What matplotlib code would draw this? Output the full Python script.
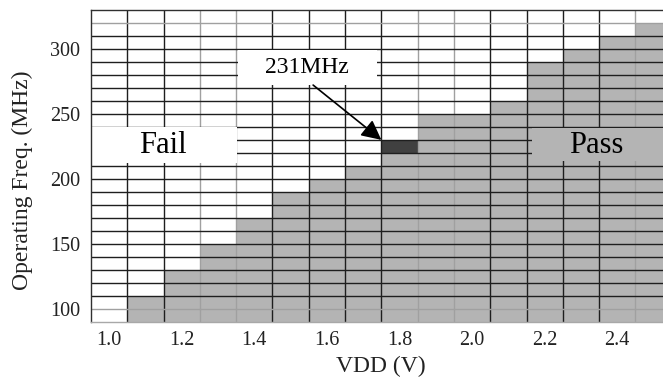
import matplotlib
matplotlib.use("Agg")
import matplotlib.pyplot as plt
from matplotlib.patches import Rectangle

# ---- data ----
vdd = [1.0, 1.1, 1.2, 1.3, 1.4, 1.5, 1.6, 1.7, 1.8, 1.9, 2.0, 2.1, 2.2, 2.3, 2.4, 2.5]
pass_top = [90, 110, 130, 150, 170, 190, 200, 210, 220, 250, 250, 260, 290, 300, 310, 320]
freq_min = 90
freq_max = 330
freq_step = 10
marker_vdd = 1.8
marker_low = 220
marker_high = 230
marker_label = "231MHz"
x_ticks = [1.0, 1.2, 1.4, 1.6, 1.8, 2.0, 2.2, 2.4]
x_tick_labels = ["1.0", "1.2", "1.4", "1.6", "1.8", "2.0", "2.2", "2.4"]
y_ticks = [100, 150, 200, 250, 300]
y_tick_labels = ["100", "150", "200", "250", "300"]

PASS = "#b4b4b4"
DARK = "#404040"
LDARK = "#1e1e1e"
LLIGHT = "#a0a0a0"
FONT = ["Liberation Serif", "DejaVu Serif"]
plt.rcParams["font.family"] = FONT

fig = plt.figure(figsize=(6.63, 3.79), dpi=100)
ax = fig.add_axes([91 / 663, 1 - 321.7 / 379, 572 / 663, (321.7 - 10) / 379])
ax.set_xlim(0.95, 2.526)
ax.set_ylim(freq_min, freq_max)

# pass region
heights = [t - freq_min for t in pass_top]
ax.bar(vdd, heights, bottom=freq_min, width=0.1, color=PASS, linewidth=0, zorder=1)
ax.bar([marker_vdd], [marker_high - marker_low], bottom=marker_low, width=0.1,
       color=DARK, linewidth=0, zorder=1.5)

# grid lines
light_v = {1.25, 1.35, 1.85, 1.95, 2.45}
for i in range(len(vdd) - 1):
    xb = round((vdd[i] + vdd[i + 1]) / 2, 2)
    ax.axvline(xb, color=LLIGHT if xb in light_v else LDARK, lw=1.0, zorder=2)
light_h = {100, 320}
for f in range(freq_min + freq_step, freq_max, freq_step):
    ax.axhline(f, color=LLIGHT if f in light_h else LDARK, lw=1.0, zorder=2)

# spines
for s in ["right"]:
    ax.spines[s].set_visible(False)
ax.spines["left"].set_color("#303030")
ax.spines["top"].set_color("#303030")
ax.spines["bottom"].set_color("#a8a8a8")
for s in ax.spines.values():
    s.set_linewidth(1.0)
    s.set_zorder(3)

ax.set_xticks(x_ticks)
ax.set_xticklabels(x_tick_labels)
ax.set_yticks(y_ticks)
ax.set_yticklabels(y_tick_labels)
ax.tick_params(axis="both", length=0, labelsize=14.5, colors="#222222")
ax.tick_params(axis="x", pad=7)
ax.tick_params(axis="y", pad=8)

# annotation boxes
ax.add_patch(Rectangle((0.952, 212), 1.351 - 0.952, 239.6 - 212, facecolor="white",
                       edgecolor="none", zorder=3))
ax.text(1.148, 226, "Fail", fontsize=22, ha="center", va="center", zorder=4)

ax.add_patch(Rectangle((2.164, 214), 2.6 - 2.164, 239 - 214, facecolor=PASS,
                       edgecolor="none", zorder=3, clip_on=True))
ax.text(2.343, 226, "Pass", fontsize=22, ha="center", va="center", zorder=4)

ax.add_patch(Rectangle((1.355, 272.5), 1.738 - 1.355, 299 - 272.5, facecolor="white",
                       edgecolor="none", zorder=3))
ax.text(1.546, 285.5, marker_label, fontsize=17, ha="center", va="center", zorder=4)

ax.annotate("", xy=(marker_vdd - 0.05, marker_high), xytext=(1.562, 272.2),
            arrowprops=dict(arrowstyle="-|>,head_length=0.6,head_width=0.3",
                            mutation_scale=20, color="black", lw=1.2,
                            shrinkA=0, shrinkB=0),
            zorder=5)

fig.text(22 / 663, 1 - 180.5 / 379, "Operating Freq. (MHz)", rotation=90,
         ha="center", va="center", fontsize=17, color="#222222")
fig.text(381 / 663, 1 - 366 / 379, "VDD (V)", ha="center", va="center",
         fontsize=17, color="#222222")

fig.savefig("out.png", dpi=100)
